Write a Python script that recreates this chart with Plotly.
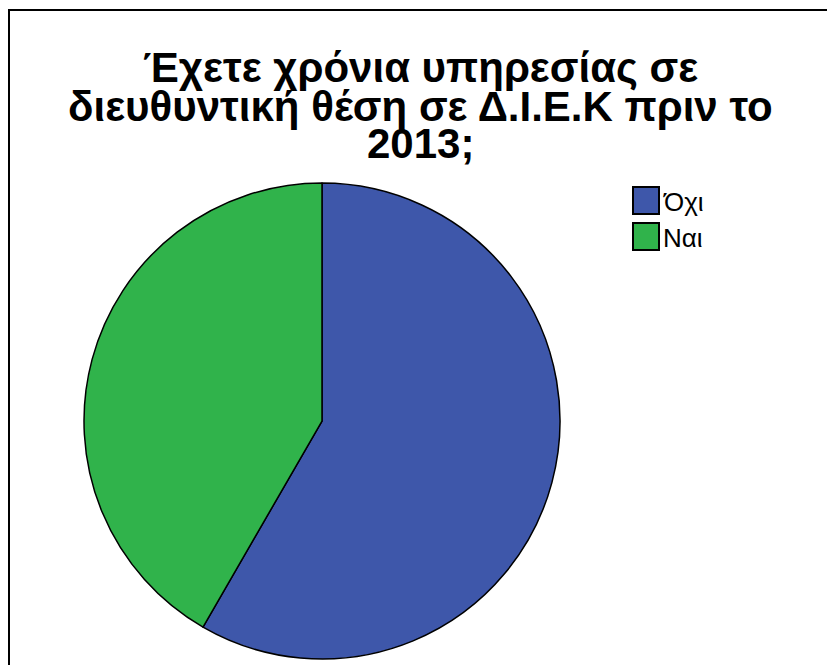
import plotly.graph_objects as go

# Survey answers and counts
labels = ["Όχι", "Ναι"]
counts = [7, 5]
colors = ["#3E57AA", "#30B34B"]

title_lines = [
    "Έχετε χρόνια υπηρεσίας σε",
    "διευθυντική θέση σε Δ.Ι.Ε.Κ πριν το",
    "2013;",
]

W, H = 827, 665
FONT = "Liberation Sans, Arial, sans-serif"

fig = go.Figure()
fig.add_trace(go.Pie(
    labels=labels,
    values=counts,
    sort=False,
    direction="clockwise",
    rotation=0,
    textinfo="none",
    hoverinfo="label+value+percent",
    marker=dict(colors=colors, line=dict(color="black", width=1.5)),
    domain=dict(x=[84 / W, 560 / W], y=[1 - 659 / H, 1 - 183 / H]),
    showlegend=False,
))

# title set line by line to keep the tight line spacing
annotations = []
title_y = [67, 106, 144]
for line, y in zip(title_lines, title_y):
    annotations.append(dict(
        text="<b>" + line + "</b>", x=420 / W, y=1 - y / H,
        xref="paper", yref="paper",
        xanchor="center", yanchor="middle", showarrow=False,
        font=dict(family=FONT, size=42, color="black"),
    ))

shapes = [
    # outer frame
    dict(type="rect", xref="paper", yref="paper",
         x0=9 / W, x1=1.05, y0=-0.05, y1=1 - 10 / H,
         line=dict(color="black", width=2), fillcolor="rgba(0,0,0,0)"),
]

# legend drawn as swatches with labels
leg_top = 187
for i, (lab, col) in enumerate(zip(labels, colors)):
    y0 = leg_top + i * 36
    shapes.append(dict(type="rect", xref="paper", yref="paper",
                       x0=633 / W, x1=659 / W, y0=1 - (y0 + 27) / H, y1=1 - y0 / H,
                       line=dict(color="black", width=2), fillcolor=col))
    annotations.append(dict(
        text=lab, x=661 / W, y=1 - (y0 + 15) / H, xref="paper", yref="paper",
        xanchor="left", yanchor="middle", showarrow=False,
        font=dict(family=FONT, size=26, color="black"),
    ))

fig.update_layout(
    width=W, height=H,
    margin=dict(l=0, r=0, t=0, b=0),
    paper_bgcolor="white", plot_bgcolor="white",
    annotations=annotations, shapes=shapes,
)

fig.write_html("out.html")
